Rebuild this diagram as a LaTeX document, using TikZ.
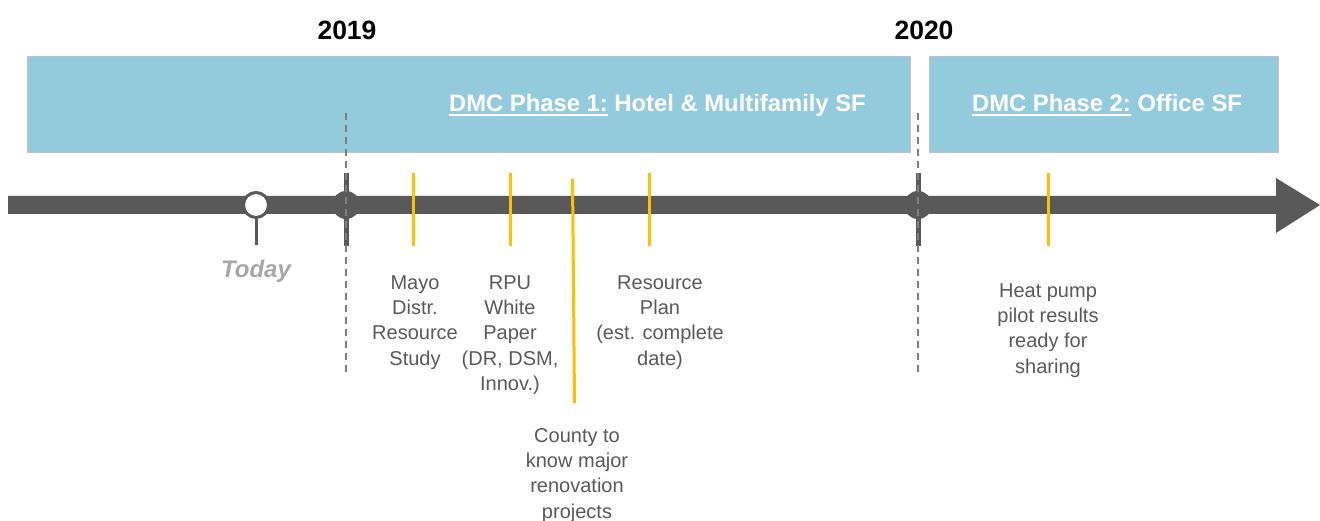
\documentclass[tikz,border=0pt]{standalone}
\usepackage{fontspec}
\setmainfont{Liberation Sans}
\usetikzlibrary{calc}
\definecolor{barcol}{HTML}{595959}
\definecolor{phasecol}{HTML}{93CBDC}
\definecolor{phaseedge}{HTML}{B8C4C8}
\definecolor{tickcol}{HTML}{FFC000}
\definecolor{dashgray}{HTML}{808080}
\definecolor{labelgray}{HTML}{595959}
\definecolor{todaygray}{HTML}{A6A6A6}
\newcommand\phaseul[1]{\setbox0\hbox{#1}\rlap{\rule[-5pt]{\wd0}{2pt}}\box0\relax}
\begin{document}
\begin{tikzpicture}[x=1pt,y=-1pt,
  phasebox/.style={fill=phasecol,draw=phaseedge,line width=0.8pt,inner sep=0pt,anchor=north west},
  phasetext/.style={text=white,font=\fontsize{23.8}{28}\selectfont\bfseries,inner sep=0pt,anchor=base west},
  yearlbl/.style={font=\fontsize{26.5}{30}\selectfont\bfseries,inner sep=0pt},
  evlabel/.style={text=labelgray,font=\fontsize{20}{25.3}\selectfont,align=center,anchor=base,inner sep=0pt},
  ytick/.style={draw=tickcol,line width=3pt},
  yearmark/.style={draw=barcol,line width=5pt},
  yeardash/.style={draw=dashgray,line width=2pt,dash pattern=on 7pt off 5pt},
  yeardot/.style={circle,fill=barcol,minimum size=28pt,inner sep=0pt},
]
\useasboundingbox (0,0) rectangle (1320,521);

% phase boxes
\node[phasebox,minimum width=883pt,minimum height=96pt] (p1) at (27,56) {};
\node[phasebox,minimum width=349pt,minimum height=96pt] (p2) at (929,56) {};
\node[phasetext] (p1t) at (449,111.5) {\phaseul{DMC Phase 1:} Hotel \& Multifamily SF};
\node[phasetext] (p2t) at (972,111.5) {\phaseul{DMC Phase 2:} Office SF};

% years
\node[yearlbl] (y2019) at (347,30) {2019};
\node[yearlbl] (y2020) at (924,30) {2020};

% timeline arrow
\coordinate (tl) at (8,205);
\coordinate (tr) at (1276,205);
\coordinate (tip) at (1320,205);
\fill[barcol] ($(tl)+(0,-9)$) -- ($(tr)+(0,-9)$) -- ($(tr)+(0,-27)$) -- (tip)
  -- ($(tr)+(0,28)$) -- ($(tr)+(0,9)$) -- ($(tl)+(0,9)$) -- cycle;

% today
\node[circle,draw=barcol,fill=white,line width=3pt,minimum size=25pt,inner sep=0pt] (today) at (256,205) {};
\coordinate (todayend) at (256,245);
\draw[barcol,line width=3pt] (today.south) -- (todayend);
\node[text=todaygray,font=\fontsize{24}{28}\selectfont\bfseries\itshape,inner sep=0pt] (todaylbl) at (256,271) {Today};

% year markers
\node[yeardot] (m2019) at (346,205) {};
\node[yeardot] (m2020) at (918,205) {};
\coordinate (m2019t) at (346,173); \coordinate (m2019b) at (346,246);
\coordinate (m2020t) at (918,173); \coordinate (m2020b) at (918,246);
\draw[yearmark] (m2019t) -- (m2019b);
\draw[yearmark] (m2020t) -- (m2020b);
\coordinate (d2019t) at (346,113); \coordinate (d2019b) at (346,375);
\coordinate (d2020t) at (918,113); \coordinate (d2020b) at (918,375);
\draw[yeardash] (d2019t) -- (d2019b);
\draw[yeardash] (d2020t) -- (d2020b);

% yellow ticks
\coordinate (k1t) at (413,173); \coordinate (k1b) at (413,246);
\coordinate (k2t) at (510,173); \coordinate (k2b) at (510,246);
\coordinate (k3t) at (572.5,179); \coordinate (k3b) at (574.5,403);
\coordinate (k4t) at (649,173); \coordinate (k4b) at (649,246);
\coordinate (k5t) at (1048,173); \coordinate (k5b) at (1048,246);
\draw[ytick] (k1t) -- (k1b);
\draw[ytick] (k2t) -- (k2b);
\draw[ytick] (k3t) -- (k3b);
\draw[ytick] (k4t) -- (k4b);
\draw[ytick] (k5t) -- (k5b);

% event labels
\node[evlabel] (l1) at (415,365) {Mayo\\Distr.\\Resource\\Study};
\node[evlabel] (l2) at (510,390.5) {RPU\\White\\Paper\\(DR, DSM,\\Innov.)};
\node[evlabel] (l3) at (577,518) {County to\\know major\\renovation\\projects};
\node[evlabel] (l4) at (660,365) {Resource\\Plan\\(est. complete\\date)};
\node[evlabel] (l5) at (1048,373) {Heat pump\\pilot results\\ready for\\sharing};
\end{tikzpicture}
\end{document}
